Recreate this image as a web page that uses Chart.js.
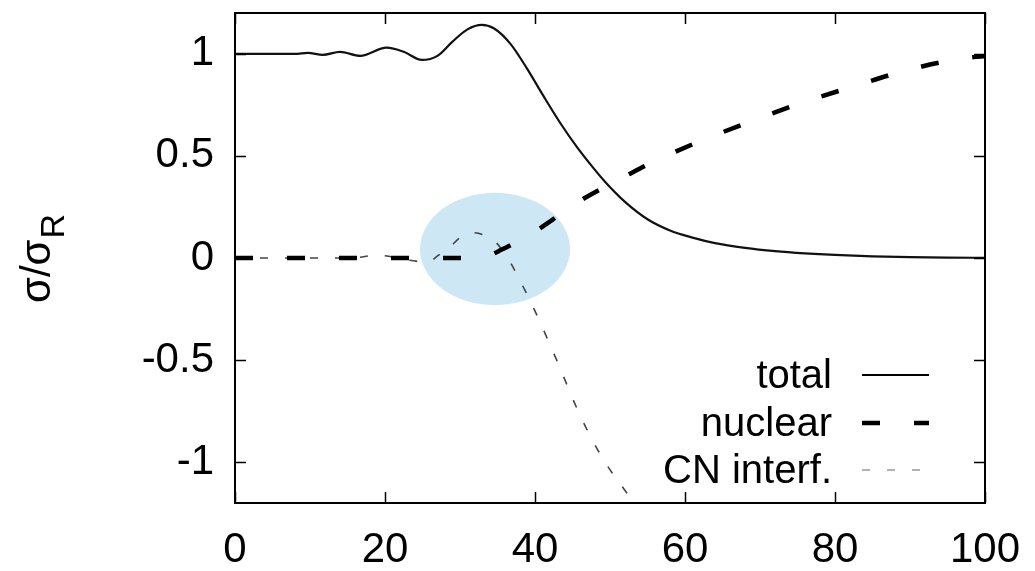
<!DOCTYPE html>
<html>
<head>
<meta charset="utf-8">
<script src="https://cdn.jsdelivr.net/npm/chart.js@4.4.1/dist/chart.umd.min.js"></script>
<style>
  html, body { margin: 0; padding: 0; background: #fff; }
  #wrap { width: 1035px; height: 571px; }
</style>
</head>
<body>
<div id="wrap"><canvas id="myChart" width="1035" height="571"></canvas></div>
<script>
// data
var totalX = [0, 5, 8, 9.7, 11.7, 14, 16.7, 20.2, 22.5, 24.9, 27, 29, 31, 32.9, 34.5, 36.7, 38.9, 41.1, 43.3, 45.6, 47.8, 49.3, 52, 55, 58, 61, 64, 68, 72, 76, 80, 85, 90, 95, 100];
var totalY = [1, 1, 1, 1.005, 0.995, 1.01, 0.99, 1.03, 1.01, 0.97, 0.99, 1.06, 1.12, 1.142, 1.125, 1.05, 0.93, 0.795, 0.665, 0.543, 0.44, 0.375, 0.275, 0.19, 0.135, 0.1, 0.073, 0.05, 0.034, 0.023, 0.015, 0.008, 0.004, 0.002, 0.001];

var nuclearX = [0, 10, 20, 30, 32, 34, 35.5, 37.6, 40, 43.6, 46, 49.6, 52, 55.7, 62.4, 69.1, 75.7, 82.7, 89.3, 96.4, 100];
var nuclearY = [0, 0, 0, 0, 0.003, 0.015, 0.04, 0.08, 0.13, 0.22, 0.28, 0.354, 0.4, 0.47, 0.578, 0.673, 0.762, 0.843, 0.917, 0.974, 0.99];

var cnX = [0, 10, 15, 17, 18.7, 21, 23, 25.8, 27, 28.7, 30, 31.8, 33, 34.7, 36, 36.9, 38, 40, 43, 46, 49, 53, 55];
var cnY = [0, 0, 0, 0.005, 0.015, 0.005, -0.01, -0.02, 0.01, 0.055, 0.1, 0.124, 0.115, 0.08, 0.02, -0.034, -0.11, -0.26, -0.51, -0.77, -0.98, -1.19, -1.3];

var labels = ["total", "nuclear", "CN interf."];
var xTicks = [0, 20, 40, 60, 80, 100];
var yTicks = [-1, -0.5, 0, 0.5, 1];

// highlighted region (blue ellipse), in data units
var markX = 34.67, markY = 0.044, markRx = 10, markRy = 0.275;

function pts(xs, ys) {
    return xs.map(function (x, i) { return { x: x, y: ys[i] }; });
}

var fontFam = "'Liberation Sans', Arial, sans-serif";

var ellipsePlugin = {
    id: 'mark',
    beforeDatasetsDraw: function (chart) {
        var c = chart.ctx, xs = chart.scales.x, ys = chart.scales.y;
        var cx = xs.getPixelForValue(markX), cy = ys.getPixelForValue(markY);
        var rx = xs.getPixelForValue(markX + markRx) - cx;
        var ry = cy - ys.getPixelForValue(markY + markRy);
        c.save();
        c.fillStyle = '#cde7f5';
        c.beginPath();
        c.ellipse(cx, cy, rx, ry, 0, 0, Math.PI * 2);
        c.fill();
        c.restore();
    }
};

// gnuplot style frame with inward ticks on all sides
var framePlugin = {
    id: 'frame',
    afterDatasetsDraw: function (chart) {
        var c = chart.ctx, a = chart.chartArea, xs = chart.scales.x, ys = chart.scales.y;
        c.save();
        c.strokeStyle = '#000';
        c.lineWidth = 1.5;
        c.beginPath();
        xTicks.forEach(function (v) {
            var p = Math.round(xs.getPixelForValue(v)) + 0.5;
            c.moveTo(p, a.bottom); c.lineTo(p, a.bottom - 11);
            c.moveTo(p, a.top); c.lineTo(p, a.top + 11);
        });
        yTicks.forEach(function (v) {
            var p = Math.round(ys.getPixelForValue(v)) + 0.5;
            c.moveTo(a.left, p); c.lineTo(a.left + 11, p);
            c.moveTo(a.right, p); c.lineTo(a.right - 11, p);
        });
        c.stroke();
        c.lineWidth = 2;
        c.strokeRect(a.left, a.top, a.right - a.left, a.bottom - a.top);
        c.restore();
    }
};

var legendPlugin = {
    id: 'keybox',
    afterDatasetsDraw: function (chart) {
        var c = chart.ctx;
        var rowY = [375, 423, 470];
        var sampleColor = ['#000', '#000', '#999'];
        c.save();
        c.font = '40px ' + fontFam;
        c.textAlign = 'right';
        c.textBaseline = 'middle';
        c.fillStyle = '#000';
        chart.data.datasets.forEach(function (ds, i) {
            c.fillText(ds.label, 832, rowY[i] + 2);
            c.strokeStyle = sampleColor[i];
            c.lineWidth = ds.borderWidth;
            c.setLineDash(ds.borderDash || []);
            c.beginPath();
            c.moveTo(862, rowY[i]);
            c.lineTo(929, rowY[i]);
            c.stroke();
        });
        c.restore();
    }
};

var yTitlePlugin = {
    id: 'ytitle',
    afterDraw: function (chart) {
        var c = chart.ctx;
        c.save();
        c.translate(50, 303);
        c.rotate(-Math.PI / 2);
        c.fillStyle = '#000';
        c.textAlign = 'left';
        c.textBaseline = 'alphabetic';
        c.font = '42px ' + fontFam;
        c.fillText('σ/σ', 0, 0);
        var w = c.measureText('σ/σ').width;
        c.font = '34px ' + fontFam;
        c.fillText('R', w + 1, 14);
        c.restore();
    }
};

var ctx = document.getElementById("myChart").getContext('2d');
var myChart = new Chart(ctx, {
    type: 'scatter',
    data: {
        datasets: [{
            label: labels[0],
            data: pts(totalX, totalY),
            showLine: true,
            borderColor: '#111',
            borderWidth: 2.2,
            pointRadius: 0,
            cubicInterpolationMode: 'monotone'
        }, {
            label: labels[1],
            data: pts(nuclearX, nuclearY),
            showLine: true,
            borderColor: '#000',
            borderWidth: 4.5,
            borderDash: [18, 34],
            pointRadius: 0,
            cubicInterpolationMode: 'monotone'
        }, {
            label: labels[2],
            data: pts(cnX, cnY),
            showLine: true,
            borderColor: '#444',
            borderWidth: 1.6,
            borderDash: [8, 17],
            pointRadius: 0,
            cubicInterpolationMode: 'monotone'
        }]
    },
    options: {
        responsive: false,
        animation: false,
        events: [],
        layout: { padding: { top: 13, right: 50, left: 0, bottom: 0 } },
        plugins: {
            legend: { display: false },
            tooltip: { enabled: false }
        },
        scales: {
            x: {
                type: 'linear',
                min: 0,
                max: 100,
                afterBuildTicks: function (s) { s.ticks = xTicks.map(function (v) { return { value: v }; }); },
                afterFit: function (s) { s.height = 68; },
                grid: { display: false },
                border: { display: false },
                ticks: {
                    color: '#000',
                    font: { size: 42, family: fontFam },
                    padding: 14,
                    maxRotation: 0,
                    callback: function (v) { return String(v); }
                }
            },
            y: {
                type: 'linear',
                min: -1.2,
                max: 1.2,
                afterBuildTicks: function (s) { s.ticks = yTicks.map(function (v) { return { value: v }; }); },
                afterFit: function (s) { s.width = 235; s.paddingTop = 0; s.paddingBottom = 0; },
                grid: { display: false },
                border: { display: false },
                ticks: {
                    color: '#000',
                    font: { size: 42, family: fontFam, lineHeight: 0.1 },
                    padding: 13,
                    callback: function (v) { return String(v); }
                }
            }
        }
    },
    plugins: [ellipsePlugin, framePlugin, legendPlugin, yTitlePlugin]
});
</script>
</body>
</html>
